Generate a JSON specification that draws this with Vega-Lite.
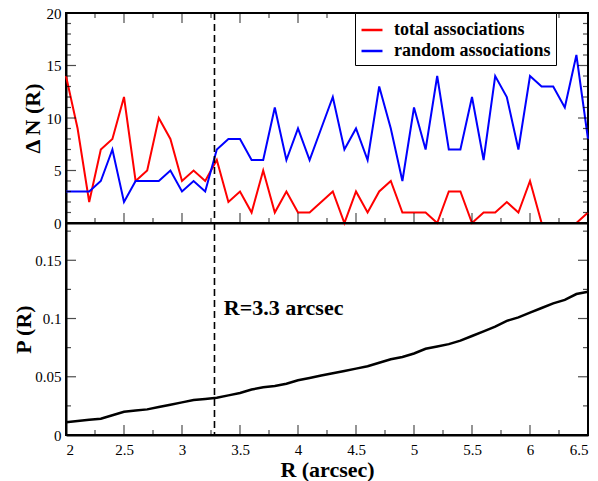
{
  "$schema": "https://vega.github.io/schema/vega-lite/v6.json",
  "background": "white",
  "padding": {"left": 11, "top": 5, "right": 11, "bottom": 0},
  "spacing": 0,
  "bounds": "flush",
  "datasets": {
    "xticks": [
      {"v": 2, "kind": "major"}, {"v": 2.25, "kind": "minor"}, {"v": 2.5, "kind": "major"}, {"v": 2.75, "kind": "minor"},
      {"v": 3, "kind": "major"}, {"v": 3.25, "kind": "minor"}, {"v": 3.5, "kind": "major"}, {"v": 3.75, "kind": "minor"},
      {"v": 4, "kind": "major"}, {"v": 4.25, "kind": "minor"}, {"v": 4.5, "kind": "major"}, {"v": 4.75, "kind": "minor"},
      {"v": 5, "kind": "major"}, {"v": 5.25, "kind": "minor"}, {"v": 5.5, "kind": "major"}, {"v": 5.75, "kind": "minor"},
      {"v": 6, "kind": "major"}, {"v": 6.25, "kind": "minor"}, {"v": 6.5, "kind": "major"}
    ],
    "nticks": [
      {"v": 0, "kind": "major"}, {"v": 1, "kind": "minor"}, {"v": 2, "kind": "minor"}, {"v": 3, "kind": "minor"}, {"v": 4, "kind": "minor"},
      {"v": 5, "kind": "major"}, {"v": 6, "kind": "minor"}, {"v": 7, "kind": "minor"}, {"v": 8, "kind": "minor"}, {"v": 9, "kind": "minor"},
      {"v": 10, "kind": "major"}, {"v": 11, "kind": "minor"}, {"v": 12, "kind": "minor"}, {"v": 13, "kind": "minor"}, {"v": 14, "kind": "minor"},
      {"v": 15, "kind": "major"}, {"v": 16, "kind": "minor"}, {"v": 17, "kind": "minor"}, {"v": 18, "kind": "minor"}, {"v": 19, "kind": "minor"},
      {"v": 20, "kind": "major"}
    ],
    "pticks": [
      {"v": 0, "kind": "major"}, {"v": 0.025, "kind": "minor"}, {"v": 0.05, "kind": "major"}, {"v": 0.075, "kind": "minor"},
      {"v": 0.1, "kind": "major"}, {"v": 0.125, "kind": "minor"}, {"v": 0.15, "kind": "major"}, {"v": 0.175, "kind": "minor"}
    ]
  },
  "config": {
    "font": "Liberation Serif",
    "view": {"stroke": "black", "strokeWidth": 2},
    "concat": {"spacing": 0},
    "axis": {
      "grid": false,
      "ticks": false,
      "tickSize": 0,
      "domainColor": "black",
      "domainWidth": 2,
      "labelFont": "Liberation Serif",
      "labelFontSize": 15,
      "labelColor": "black",
      "titleFont": "Liberation Serif",
      "titleFontSize": 22,
      "titleFontWeight": "bold",
      "titleColor": "black"
    }
  },
  "vconcat": [
    {
      "width": 522,
      "height": 210,
      "layer": [
        {
          "data": {
            "values": [
              {"R": 2.0, "series": "total associations", "N": 14},
              {"R": 2.1, "series": "total associations", "N": 9},
              {"R": 2.2, "series": "total associations", "N": 2},
              {"R": 2.3, "series": "total associations", "N": 7},
              {"R": 2.4, "series": "total associations", "N": 8},
              {"R": 2.5, "series": "total associations", "N": 12},
              {"R": 2.6, "series": "total associations", "N": 4},
              {"R": 2.7, "series": "total associations", "N": 5},
              {"R": 2.8, "series": "total associations", "N": 10},
              {"R": 2.9, "series": "total associations", "N": 8},
              {"R": 3.0, "series": "total associations", "N": 4},
              {"R": 3.1, "series": "total associations", "N": 5},
              {"R": 3.2, "series": "total associations", "N": 4},
              {"R": 3.3, "series": "total associations", "N": 6},
              {"R": 3.4, "series": "total associations", "N": 2},
              {"R": 3.5, "series": "total associations", "N": 3},
              {"R": 3.6, "series": "total associations", "N": 1},
              {"R": 3.7, "series": "total associations", "N": 5},
              {"R": 3.8, "series": "total associations", "N": 1},
              {"R": 3.9, "series": "total associations", "N": 3},
              {"R": 4.0, "series": "total associations", "N": 1},
              {"R": 4.1, "series": "total associations", "N": 1},
              {"R": 4.2, "series": "total associations", "N": 2},
              {"R": 4.3, "series": "total associations", "N": 3},
              {"R": 4.4, "series": "total associations", "N": 0},
              {"R": 4.5, "series": "total associations", "N": 3},
              {"R": 4.6, "series": "total associations", "N": 1},
              {"R": 4.7, "series": "total associations", "N": 3},
              {"R": 4.8, "series": "total associations", "N": 4},
              {"R": 4.9, "series": "total associations", "N": 1},
              {"R": 5.0, "series": "total associations", "N": 1},
              {"R": 5.1, "series": "total associations", "N": 1},
              {"R": 5.2, "series": "total associations", "N": 0},
              {"R": 5.3, "series": "total associations", "N": 3},
              {"R": 5.4, "series": "total associations", "N": 3},
              {"R": 5.5, "series": "total associations", "N": 0},
              {"R": 5.6, "series": "total associations", "N": 1},
              {"R": 5.7, "series": "total associations", "N": 1},
              {"R": 5.8, "series": "total associations", "N": 2},
              {"R": 5.9, "series": "total associations", "N": 1},
              {"R": 6.0, "series": "total associations", "N": 4},
              {"R": 6.1, "series": "total associations", "N": 0},
              {"R": 6.2, "series": "total associations", "N": 0},
              {"R": 6.3, "series": "total associations", "N": 0},
              {"R": 6.4, "series": "total associations", "N": 0},
              {"R": 6.5, "series": "total associations", "N": 1},
              {"R": 2.0, "series": "random associations", "N": 3},
              {"R": 2.1, "series": "random associations", "N": 3},
              {"R": 2.2, "series": "random associations", "N": 3},
              {"R": 2.3, "series": "random associations", "N": 4},
              {"R": 2.4, "series": "random associations", "N": 7},
              {"R": 2.5, "series": "random associations", "N": 2},
              {"R": 2.6, "series": "random associations", "N": 4},
              {"R": 2.7, "series": "random associations", "N": 4},
              {"R": 2.8, "series": "random associations", "N": 4},
              {"R": 2.9, "series": "random associations", "N": 5},
              {"R": 3.0, "series": "random associations", "N": 3},
              {"R": 3.1, "series": "random associations", "N": 4},
              {"R": 3.2, "series": "random associations", "N": 3},
              {"R": 3.3, "series": "random associations", "N": 7},
              {"R": 3.4, "series": "random associations", "N": 8},
              {"R": 3.5, "series": "random associations", "N": 8},
              {"R": 3.6, "series": "random associations", "N": 6},
              {"R": 3.7, "series": "random associations", "N": 6},
              {"R": 3.8, "series": "random associations", "N": 11},
              {"R": 3.9, "series": "random associations", "N": 6},
              {"R": 4.0, "series": "random associations", "N": 9},
              {"R": 4.1, "series": "random associations", "N": 6},
              {"R": 4.2, "series": "random associations", "N": 9},
              {"R": 4.3, "series": "random associations", "N": 12},
              {"R": 4.4, "series": "random associations", "N": 7},
              {"R": 4.5, "series": "random associations", "N": 9},
              {"R": 4.6, "series": "random associations", "N": 6},
              {"R": 4.7, "series": "random associations", "N": 13},
              {"R": 4.8, "series": "random associations", "N": 9},
              {"R": 4.9, "series": "random associations", "N": 4},
              {"R": 5.0, "series": "random associations", "N": 11},
              {"R": 5.1, "series": "random associations", "N": 7},
              {"R": 5.2, "series": "random associations", "N": 14},
              {"R": 5.3, "series": "random associations", "N": 7},
              {"R": 5.4, "series": "random associations", "N": 7},
              {"R": 5.5, "series": "random associations", "N": 12},
              {"R": 5.6, "series": "random associations", "N": 6},
              {"R": 5.7, "series": "random associations", "N": 14},
              {"R": 5.8, "series": "random associations", "N": 12},
              {"R": 5.9, "series": "random associations", "N": 7},
              {"R": 6.0, "series": "random associations", "N": 14},
              {"R": 6.1, "series": "random associations", "N": 13},
              {"R": 6.2, "series": "random associations", "N": 13},
              {"R": 6.3, "series": "random associations", "N": 11},
              {"R": 6.4, "series": "random associations", "N": 16},
              {"R": 6.5, "series": "random associations", "N": 8}
            ]
          },
          "mark": {"type": "line", "strokeWidth": 2},
          "encoding": {
            "x": {
              "field": "R", "type": "quantitative",
              "scale": {"domain": [2, 6.5], "nice": false, "zero": false},
              "axis": {"orient": "bottom", "title": null, "labels": false, "values": [2, 2.5, 3, 3.5, 4, 4.5, 5, 5.5, 6, 6.5]}
            },
            "y": {
              "field": "N", "type": "quantitative",
              "scale": {"domain": [0, 20], "nice": false},
              "axis": {
                "orient": "left", "title": "Δ N (R)",
                "titleX": -34, "titleY": 105, "titleBaseline": "middle", "titleAlign": "center", "titleAngle": -90,
                "values": [0, 5, 10, 15, 20],
                "labelPadding": 5
              }
            },
            "color": {
              "field": "series", "type": "nominal",
              "scale": {"domain": ["total associations", "random associations"], "range": ["#ff0000", "#0000ff"]},
              "legend": {
                "title": null, "orient": "none", "legendX": 289, "legendY": 0,
                "strokeColor": "black", "fillColor": "white", "padding": 5,
                "symbolType": "stroke", "symbolSize": 440, "symbolStrokeWidth": 2.5,
                "labelFont": "Liberation Serif", "labelFontSize": 18, "labelFontWeight": "bold",
                "labelColor": "black", "labelOffset": 10, "rowPadding": 0
              }
            }
          }
        },
        {
          "data": {"name": "xticks"},
          "mark": {"type": "tick", "orient": "vertical", "color": "black", "thickness": 1.2, "clip": true},
          "encoding": {
            "x": {"field": "v", "type": "quantitative", "axis": null},
            "y": {"datum": 0, "type": "quantitative", "axis": null},
            "size": {"field": "kind", "type": "nominal", "scale": {"domain": ["major", "minor"], "range": [20, 10]}, "legend": null}
          }
        },
        {
          "data": {"name": "xticks"},
          "mark": {"type": "tick", "orient": "vertical", "color": "black", "thickness": 1.2, "clip": true},
          "encoding": {
            "x": {"field": "v", "type": "quantitative", "axis": null},
            "y": {"datum": 20, "type": "quantitative", "axis": null},
            "size": {"field": "kind", "type": "nominal", "scale": {"domain": ["major", "minor"], "range": [20, 10]}, "legend": null}
          }
        },
        {
          "data": {"name": "nticks"},
          "mark": {"type": "tick", "orient": "horizontal", "color": "black", "thickness": 1.2, "clip": true},
          "encoding": {
            "y": {"field": "v", "type": "quantitative", "axis": null},
            "x": {"datum": 2, "type": "quantitative", "axis": null},
            "size": {"field": "kind", "type": "nominal", "scale": {"domain": ["major", "minor"], "range": [20, 10]}, "legend": null}
          }
        },
        {
          "data": {"name": "nticks"},
          "mark": {"type": "tick", "orient": "horizontal", "color": "black", "thickness": 1.2, "clip": true},
          "encoding": {
            "y": {"field": "v", "type": "quantitative", "axis": null},
            "x": {"datum": 6.5, "type": "quantitative", "axis": null},
            "size": {"field": "kind", "type": "nominal", "scale": {"domain": ["major", "minor"], "range": [20, 10]}, "legend": null}
          }
        },
        {
          "data": {"values": [{}]},
          "mark": {"type": "rule", "color": "black", "strokeWidth": 1.6, "strokeDash": [7, 4]},
          "encoding": {"x": {"datum": 3.28, "type": "quantitative", "axis": null}}
        }
      ],
      "resolve": {"axis": {"x": "independent", "y": "independent"}}
    },
    {
      "width": 522,
      "height": 212,
      "layer": [
        {
          "data": {
            "values": [
              {"R": 2.0, "P": 0.011}, {"R": 2.1, "P": 0.012}, {"R": 2.2, "P": 0.013},
              {"R": 2.3, "P": 0.014}, {"R": 2.4, "P": 0.017}, {"R": 2.5, "P": 0.020},
              {"R": 2.6, "P": 0.021}, {"R": 2.7, "P": 0.022}, {"R": 2.8, "P": 0.024},
              {"R": 2.9, "P": 0.026}, {"R": 3.0, "P": 0.028}, {"R": 3.1, "P": 0.030},
              {"R": 3.2, "P": 0.031}, {"R": 3.3, "P": 0.032}, {"R": 3.4, "P": 0.034},
              {"R": 3.5, "P": 0.036}, {"R": 3.6, "P": 0.039}, {"R": 3.7, "P": 0.041},
              {"R": 3.8, "P": 0.042}, {"R": 3.9, "P": 0.044}, {"R": 4.0, "P": 0.047},
              {"R": 4.1, "P": 0.049}, {"R": 4.2, "P": 0.051}, {"R": 4.3, "P": 0.053},
              {"R": 4.4, "P": 0.055}, {"R": 4.5, "P": 0.057}, {"R": 4.6, "P": 0.059},
              {"R": 4.7, "P": 0.062}, {"R": 4.8, "P": 0.065}, {"R": 4.9, "P": 0.067},
              {"R": 5.0, "P": 0.070}, {"R": 5.1, "P": 0.074}, {"R": 5.2, "P": 0.076},
              {"R": 5.3, "P": 0.078}, {"R": 5.4, "P": 0.081}, {"R": 5.5, "P": 0.085},
              {"R": 5.6, "P": 0.089}, {"R": 5.7, "P": 0.093}, {"R": 5.8, "P": 0.098},
              {"R": 5.9, "P": 0.101}, {"R": 6.0, "P": 0.105}, {"R": 6.1, "P": 0.109},
              {"R": 6.2, "P": 0.113}, {"R": 6.3, "P": 0.116}, {"R": 6.4, "P": 0.121},
              {"R": 6.5, "P": 0.123}
            ]
          },
          "mark": {"type": "line", "color": "black", "strokeWidth": 2.5},
          "encoding": {
            "x": {
              "field": "R", "type": "quantitative",
              "scale": {"domain": [2, 6.5], "nice": false, "zero": false},
              "axis": {
                "orient": "bottom", "title": "R (arcsec)",
                "titleX": 261, "titleY": 41, "titleBaseline": "alphabetic", "titleAlign": "center",
                "values": [2, 2.5, 3, 3.5, 4, 4.5, 5, 5.5, 6, 6.5],
                "labelExpr": "'' + datum.value",
                "labelPadding": 7
              }
            },
            "y": {
              "field": "P", "type": "quantitative",
              "scale": {"domain": [0, 0.182], "nice": false},
              "axis": {
                "orient": "left", "title": "P (R)",
                "titleX": -43, "titleY": 106, "titleBaseline": "middle", "titleAlign": "center", "titleAngle": -90,
                "values": [0, 0.05, 0.1, 0.15],
                "labelExpr": "'' + datum.value",
                "labelPadding": 5
              }
            }
          }
        },
        {
          "data": {"name": "xticks"},
          "mark": {"type": "tick", "orient": "vertical", "color": "black", "thickness": 1.2, "clip": true},
          "encoding": {
            "x": {"field": "v", "type": "quantitative", "axis": null},
            "y": {"datum": 0, "type": "quantitative", "axis": null},
            "size": {"field": "kind", "type": "nominal", "scale": {"domain": ["major", "minor"], "range": [22, 12]}, "legend": null}
          }
        },
        {
          "data": {"name": "pticks"},
          "mark": {"type": "tick", "orient": "horizontal", "color": "black", "thickness": 1.2, "clip": true},
          "encoding": {
            "y": {"field": "v", "type": "quantitative", "axis": null},
            "x": {"datum": 2, "type": "quantitative", "axis": null},
            "size": {"field": "kind", "type": "nominal", "scale": {"domain": ["major", "minor"], "range": [22, 12]}, "legend": null}
          }
        },
        {
          "data": {"name": "pticks"},
          "mark": {"type": "tick", "orient": "horizontal", "color": "black", "thickness": 1.2, "clip": true},
          "encoding": {
            "y": {"field": "v", "type": "quantitative", "axis": null},
            "x": {"datum": 6.5, "type": "quantitative", "axis": null},
            "size": {"field": "kind", "type": "nominal", "scale": {"domain": ["major", "minor"], "range": [22, 12]}, "legend": null}
          }
        },
        {
          "data": {"values": [{}]},
          "mark": {"type": "rule", "color": "black", "strokeWidth": 1.6, "strokeDash": [7, 4]},
          "encoding": {"x": {"datum": 3.28, "type": "quantitative", "axis": null}}
        },
        {
          "data": {"values": [{"label": "R=3.3 arcsec"}]},
          "mark": {"type": "text", "align": "left", "baseline": "alphabetic", "font": "Liberation Serif", "fontSize": 22, "fontWeight": "bold", "color": "black"},
          "encoding": {
            "x": {"datum": 3.36, "type": "quantitative", "axis": null},
            "y": {"datum": 0.103, "type": "quantitative", "axis": null},
            "text": {"field": "label", "type": "nominal"}
          }
        }
      ],
      "resolve": {"axis": {"x": "independent", "y": "independent"}}
    }
  ]
}
